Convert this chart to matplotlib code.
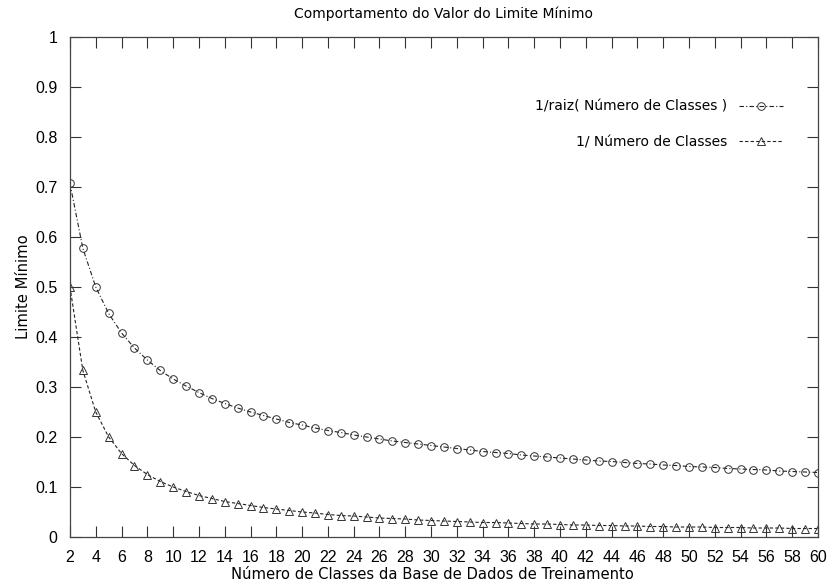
import matplotlib
matplotlib.use('Agg')
import matplotlib.pyplot as plt

# Numero de classes (eixo x)
classes = list(range(2, 61))

# 1/raiz(n)
inv_sqrt = [0.707, 0.577, 0.500, 0.447, 0.408, 0.378, 0.354, 0.333, 0.316, 0.302,
            0.289, 0.277, 0.267, 0.258, 0.250, 0.243, 0.236, 0.229, 0.224, 0.218,
            0.213, 0.209, 0.204, 0.200, 0.196, 0.192, 0.189, 0.186, 0.183, 0.180,
            0.177, 0.174, 0.171, 0.169, 0.167, 0.164, 0.162, 0.160, 0.158, 0.156,
            0.154, 0.152, 0.151, 0.149, 0.147, 0.146, 0.144, 0.143, 0.141, 0.140,
            0.139, 0.137, 0.136, 0.135, 0.134, 0.132, 0.131, 0.130, 0.129]

# 1/n
inv_n = [0.500, 0.333, 0.250, 0.200, 0.167, 0.143, 0.125, 0.111, 0.100, 0.091,
         0.083, 0.077, 0.071, 0.067, 0.063, 0.059, 0.056, 0.053, 0.050, 0.048,
         0.045, 0.043, 0.042, 0.040, 0.038, 0.037, 0.036, 0.034, 0.033, 0.032,
         0.031, 0.030, 0.029, 0.029, 0.028, 0.027, 0.026, 0.026, 0.025, 0.024,
         0.024, 0.023, 0.023, 0.022, 0.022, 0.021, 0.021, 0.020, 0.020, 0.020,
         0.019, 0.019, 0.019, 0.018, 0.018, 0.018, 0.017, 0.017, 0.017]

x_ticks = list(range(2, 61, 2))
y_ticks = [0, 0.1, 0.2, 0.3, 0.4, 0.5, 0.6, 0.7, 0.8, 0.9, 1]
y_labels = ['0', '0.1', '0.2', '0.3', '0.4', '0.5', '0.6', '0.7', '0.8', '0.9', '1']

fig = plt.figure(figsize=(8.29, 5.86), dpi=100)
ax = fig.add_axes([0.0844, 0.0836, 0.9023, 0.8533])

ax.plot(classes, inv_sqrt, linestyle=(0, (4, 2, 1, 2)), color='#222222', lw=0.8,
        marker='o', markersize=5.5, markerfacecolor='none', markeredgecolor='#333333',
        markeredgewidth=0.7, label='1/raiz( Número de Classes )')
ax.plot(classes, inv_n, linestyle=(0, (3, 2)), color='#222222', lw=0.8,
        marker='^', markersize=5.5, markerfacecolor='none', markeredgecolor='#333333',
        markeredgewidth=0.7, label='1/ Número de Classes')

ax.set_xlim(2, 60)
ax.set_ylim(0, 1)
ax.set_xticks(x_ticks)
ax.set_yticks(y_ticks)
ax.set_yticklabels(y_labels)
ax.tick_params(direction='in', length=8, width=0.8, top=True, right=True,
               color='#333333')
ax.tick_params(axis='y', pad=9)
ax.tick_params(axis='x', pad=9)
for lab in ax.get_xticklabels() + ax.get_yticklabels():
    lab.set_fontfamily('Liberation Sans')
    lab.set_fontsize(11.5)
for s in ax.spines.values():
    s.set_linewidth(0.9)
    s.set_color('#444444')

ax.set_title('Comportamento do Valor do Limite Mínimo', fontsize=10, pad=14)
ax.set_xlabel('Número de Classes da Base de Dados de Treinamento', fontsize=10.6,
              labelpad=2, x=0.485)
ax.set_ylabel('Limite Mínimo', fontsize=10.6, labelpad=3)

leg = ax.legend(loc='upper right', bbox_to_anchor=(0.97, 0.9), frameon=False,
                markerfirst=False, fontsize=10, handlelength=3.2, labelspacing=1.55,
                handletextpad=0.8)

fig.savefig('out.png', dpi=100)
